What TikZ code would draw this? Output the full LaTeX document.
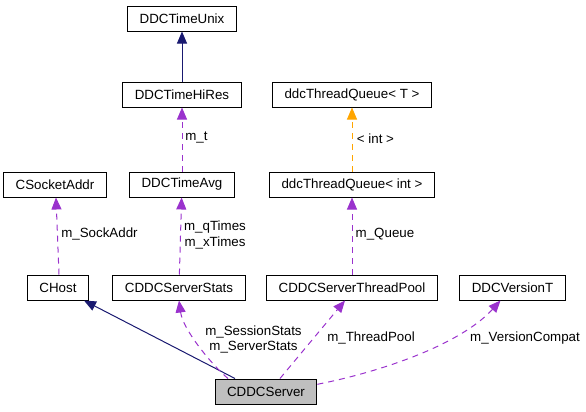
\documentclass[tikz,border=0pt]{standalone}
\usepackage{fontspec}
\setmainfont{Liberation Sans}
\usetikzlibrary{arrows.meta}

\definecolor{inhcol}{HTML}{191970}
\definecolor{usecol}{HTML}{9A32CD}
\definecolor{tmplcol}{HTML}{FFA500}
\definecolor{curcol}{HTML}{BFBFBF}

\tikzset{every picture/.style={line width=0.75pt}}
\tikzset{
  cls/.style={draw=black, fill=white, minimum height=18.75pt, inner xsep=9pt, inner ysep=0pt, font=\fontsize{10}{11.5}\selectfont},
  lbl/.style={inner sep=0pt, align=center, font=\fontsize{10}{11.5}\selectfont},
  tip/.style={-{Triangle[length=9pt,width=7.5pt]}},
  inh/.style={tip, draw=inhcol},
  use/.style={tip, draw=usecol, dash pattern=on 4.5pt off 3.75pt},
  tmpl/.style={tip, draw=tmplcol, dash pattern=on 4.5pt off 3.75pt}
}

\begin{document}
\begin{tikzpicture}[x=0.75pt,y=0.75pt,yscale=-1,xscale=1]
	\useasboundingbox (0,0) rectangle (586,411);

	%Shape: Classes
	\node[cls] (unix) at (182,18.5) {DDCTimeUnix};
	\node[cls] (hires) at (182,94.5) {DDCTimeHiRes};
	\node[cls] (sock) at (55,184.5) {CSocketAddr};
	\node[cls] (avg) at (182,184.5) {DDCTimeAvg};
	\node[cls] (tqT) at (352,94.5) {ddcThreadQueue< T >};
	\node[cls] (tqI) at (352,184.5) {ddcThreadQueue< int >};
	\node[cls] (host) at (58,287.5) {CHost};
	\node[cls] (stats) at (179,287.5) {CDDCServerStats};
	\node[cls] (pool) at (352,287.5) {CDDCServerThreadPool};
	\node[cls] (ver) at (512.5,287.5) {DDCVersionT};
	\node[cls, fill=curcol] (srv) at (266,391.5) {CDDCServer};

	%Straight Lines: inheritance
	\draw[inh] (hires) -- (unix);
	\draw[inh] ([xshift=-23.25pt]srv.north) -- ([xshift=19.5pt]host.south);

	%Straight Lines: members
	\draw[use] (avg) -- (hires);
	\draw[use] ([xshift=0.75pt]host.north) -- ([xshift=0.75pt]sock.south);
	\draw[use] (stats) -- (avg);
	\draw[use] (pool) -- (tqI);
	\draw[use] ([xshift=-28.5pt]srv.north) .. controls (212,365) and (183,330) .. (stats.south);
	\draw[use] ([xshift=10.5pt]srv.north) -- ([xshift=-5.25pt]pool.south);
	\draw[use] (srv.8) .. controls (380,372) and (460,345) .. ([xshift=-9pt]ver.south);

	%Straight Lines: template
	\draw[tmpl] (tqI) -- (tqT);

	% Text Node
	\node[lbl] (lt) at (196.5,138) {m\_t};
	% Text Node
	\node[lbl] (lsock) at (99.5,234) {m\_SockAddr};
	% Text Node
	\node[lbl] (ltimes) at (215,235) {m\_qTimes\\m\_xTimes};
	% Text Node
	\node[lbl] (lint) at (375.5,139) {< int >};
	% Text Node
	\node[lbl] (lqueue) at (385,234) {m\_Queue};
	% Text Node
	\node[lbl] (lstats) at (253.5,339.5) {m\_SessionStats\\m\_ServerStats};
	% Text Node
	\node[lbl] (lpool) at (371,338) {m\_ThreadPool};
	% Text Node
	\node[lbl] (lver) at (525,338) {m\_VersionCompat};

\end{tikzpicture}
\end{document}
